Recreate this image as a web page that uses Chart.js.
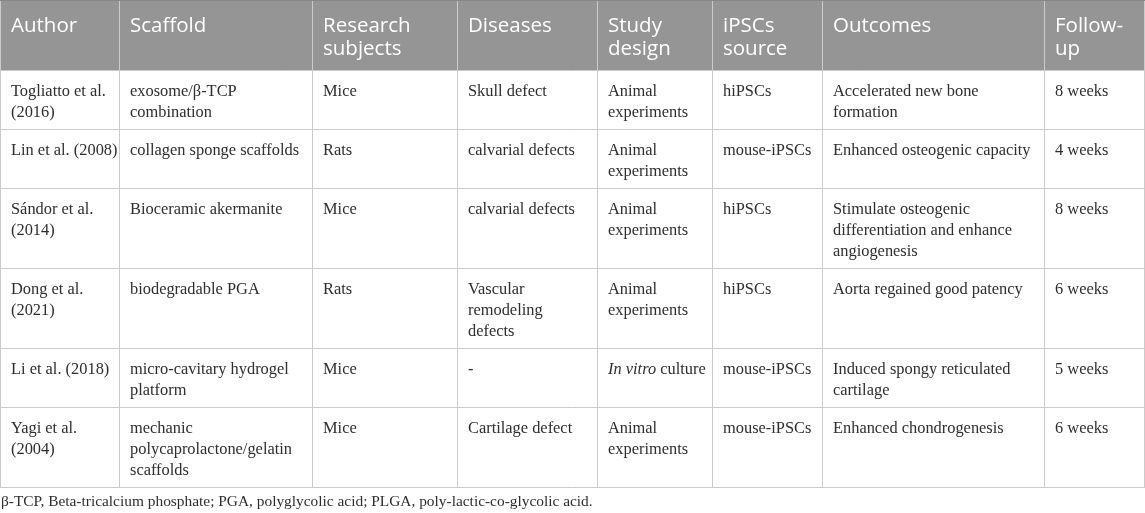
<!DOCTYPE html>
<html lang="en">
<head>
    <meta charset="UTF-8">
    <title>iPSC scaffold studies</title>
    <style>
        body {
            margin: 0;
            background-color: #ffffff;
        }

        .table-container {
            width: 1145px;
            height: 513px;
        }
    </style>
    <script src="https://cdn.jsdelivr.net/npm/chart.js"></script>
</head>
<body>
    <div class="table-container">
        <canvas id="studyTable" width="1145" height="513"></canvas>
    </div>

    <script>
        // table content, one array per column ("\n" = line break as in the source, *..* = italic)
        const headers = ['Author', 'Scaffold', 'Research\nsubjects', 'Diseases', 'Study\ndesign', 'iPSCs\nsource', 'Outcomes', 'Follow-\nup'];
        const authors = ['Togliatto et al.\n(2016)', 'Lin et al. (2008)', 'Sándor et al.\n(2014)', 'Dong et al.\n(2021)', 'Li et al. (2018)', 'Yagi et al.\n(2004)'];
        const scaffolds = ['exosome/β-TCP\ncombination', 'collagen sponge scaffolds', 'Bioceramic akermanite', 'biodegradable PGA', 'micro-cavitary hydrogel\nplatform', 'mechanic\npolycaprolactone/gelatin\nscaffolds'];
        const subjects = ['Mice', 'Rats', 'Mice', 'Rats', 'Mice', 'Mice'];
        const diseases = ['Skull defect', 'calvarial defects', 'calvarial defects', 'Vascular\nremodeling\ndefects', '-', 'Cartilage defect'];
        const designs = ['Animal\nexperiments', 'Animal\nexperiments', 'Animal\nexperiments', 'Animal\nexperiments', '*In vitro* culture', 'Animal\nexperiments'];
        const sources = ['hiPSCs', 'mouse-iPSCs', 'hiPSCs', 'hiPSCs', 'mouse-iPSCs', 'mouse-iPSCs'];
        const outcomes = ['Accelerated new bone\nformation', 'Enhanced osteogenic capacity', 'Stimulate osteogenic\ndifferentiation and enhance\nangiogenesis', 'Aorta regained good patency', 'Induced spongy reticulated\ncartilage', 'Enhanced chondrogenesis'];
        const followUps = ['8 weeks', '4 weeks', '8 weeks', '6 weeks', '5 weeks', '6 weeks'];
        const footnote = 'β-TCP, Beta-tricalcium phosphate; PGA, polyglycolic acid; PLGA, poly-lactic-co-glycolic acid.';

        const columns = [authors, scaffolds, subjects, diseases, designs, sources, outcomes, followUps];

        // layout (in scale units = pixels of the 1145x513 area)
        const colEdges = [0, 119, 312, 457, 597, 712, 822, 1044, 1145];
        const headerHeight = 71;
        const firstLine = 21;
        const lineStep = 21;
        const rowPad = 17;

        const rowCount = authors.length;
        const rowEdges = [headerHeight];
        for (let r = 0; r < rowCount; r++) {
            const lines = Math.max(...columns.map(col => col[r].split('\n').length));
            rowEdges.push(rowEdges[r] + firstLine + lineStep * (lines - 1) + rowPad);
        }

        function drawRich(ctx, text, x, y, font) {
            // split into plain / italic parts
            const parts = text.split('*');
            let cx = x;
            parts.forEach((part, i) => {
                ctx.font = (i % 2 === 1 ? 'italic ' : '') + font;
                ctx.fillText(part, cx, y);
                cx += ctx.measureText(part).width;
            });
        }

        const tablePlugin = {
            id: 'tablePlugin',
            afterDraw(chart) {
                const ctx = chart.ctx;
                const xs = chart.scales.x;
                const ys = chart.scales.y;
                const px = v => xs.getPixelForValue(v);
                const py = v => ys.getPixelForValue(v);
                const tableBottom = rowEdges[rowEdges.length - 1];

                ctx.save();

                // header band
                ctx.fillStyle = '#959595';
                ctx.fillRect(px(0), py(0), px(1145) - px(0), py(headerHeight) - py(0));

                // grid lines
                ctx.strokeStyle = '#cbcbcb';
                ctx.lineWidth = 1;
                ctx.beginPath();
                colEdges.forEach(x => {
                    const xx = Math.min(Math.round(px(x)) + 0.5, px(1145) - 0.5);
                    ctx.moveTo(xx, py(0));
                    ctx.lineTo(xx, py(tableBottom));
                });
                rowEdges.forEach(y => {
                    const yy = Math.round(py(y)) - 0.5;
                    ctx.moveTo(px(0), yy);
                    ctx.lineTo(px(1145), yy);
                });
                ctx.stroke();

                ctx.strokeStyle = '#858585';
                ctx.beginPath();
                ctx.moveTo(px(0), py(0) + 0.5);
                ctx.lineTo(px(1145), py(0) + 0.5);
                ctx.stroke();

                // header text
                ctx.textBaseline = 'middle';
                ctx.textAlign = 'left';
                ctx.fillStyle = '#ffffff';
                ctx.font = '20.5px "Open Sans"';
                headers.forEach((h, c) => {
                    h.split('\n').forEach((line, i) => {
                        ctx.fillText(line, px(colEdges[c] + 11), py(26 + i * 23));
                    });
                });

                // body text
                ctx.fillStyle = '#2e2e2e';
                columns.forEach((col, c) => {
                    col.forEach((cell, r) => {
                        cell.split('\n').forEach((line, i) => {
                            drawRich(ctx, line, px(colEdges[c] + 11), py(rowEdges[r] + firstLine + i * lineStep), '16.4px "Liberation Serif"');
                        });
                    });
                });

                // footnote
                ctx.font = '15.4px "Liberation Serif"';
                ctx.fillText(footnote, px(1), py(502));

                ctx.restore();
            }
        };

        new Chart(document.getElementById('studyTable').getContext('2d'), {
            type: 'scatter',
            data: {
                datasets: [{
                    data: [],
                    pointRadius: 0
                }]
            },
            options: {
                responsive: false,
                animation: false,
                layout: { padding: 0 },
                plugins: {
                    legend: { display: false },
                    tooltip: { enabled: false }
                },
                scales: {
                    x: { type: 'linear', min: 0, max: 1145, display: false },
                    y: { type: 'linear', min: 0, max: 513, reverse: true, display: false }
                }
            },
            plugins: [tablePlugin]
        });
    </script>
</body>
</html>
